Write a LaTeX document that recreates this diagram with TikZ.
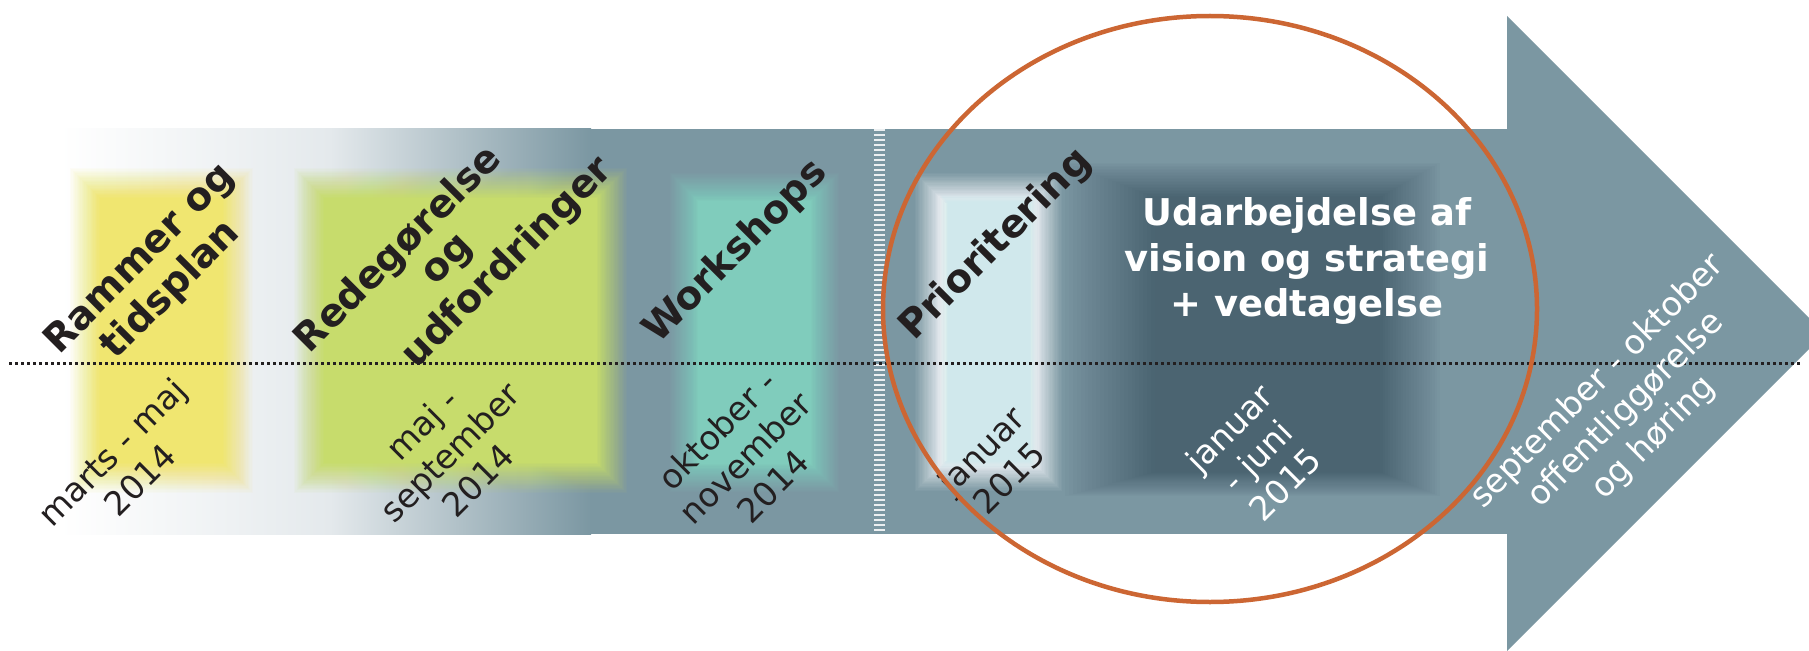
\documentclass[tikz,border=0pt]{standalone}
\usepackage{fontspec}
\setmainfont{DejaVu Sans}
\definecolor{steel}{RGB}{123,151,162}
\definecolor{lightg}{RGB}{228,233,236}
\definecolor{slate}{RGB}{75,100,113}
\definecolor{ylw}{RGB}{240,230,112}
\definecolor{ygreen}{RGB}{199,220,108}
\definecolor{aqua}{RGB}{128,204,188}
\definecolor{pale}{RGB}{208,232,236}
\definecolor{orng}{RGB}{204,102,51}
\definecolor{ink}{RGB}{35,31,32}
% soft-edged rectangle with a linear alpha ramp:
% colour, x1, y1, x2, y2 (half-intensity edges), blur width
\newcommand\softrect[6]{%
  \foreach \k in {1,...,24}{%
    \pgfmathsetmacro\op{1/(25-\k)}%
    \pgfmathsetmacro\off{#6/2-(\k-1)*#6/23}%
    \fill[#1,opacity=\op] ({#2-\off},{#3-\off}) rectangle ({#4+\off},{#5+\off});
  }%
}
% asymmetric version: colour, x1, y1, x2, y2, blur left, top, right, bottom
\newcommand\softrectx[9]{%
  \foreach \k in {1,...,24}{%
    \pgfmathsetmacro\op{1/(25-\k)}%
    \pgfmathsetmacro\f{0.5-(\k-1)/23}%
    \fill[#1,opacity=\op] ({#2-\f*#6},{#3-\f*#7}) rectangle ({#4+\f*#8},{#5+\f*#9});
  }%
}
\begin{document}
\begin{tikzpicture}[x=1bp,y=-1bp,
  phase/.style={rotate=45, align=center, text=ink, inner sep=0pt, font=\fontsize{39}{44}\selectfont\bfseries},
  period/.style={rotate=45, align=center, text=ink, inner sep=0pt, font=\fontsize{33.5}{40}\selectfont},
  wperiod/.style={period, text=white},
  wtitle/.style={align=center, text=white, inner sep=0pt, font=\fontsize{37}{45.5}\selectfont\bfseries},
  dotline/.style={ink, line width=3bp, dash pattern=on 2.6bp off 3.4bp},
  ladder/.style={white, opacity=0.85, line width=11bp, dash pattern=on 1.6bp off 3.4bp},
  ring/.style={orng, line width=4.5bp}]
\useasboundingbox (0,0) rectangle (1809,651);
\clip (0,0) rectangle (1809,651);
% arrow body
\fill[white] (0,0) rectangle (1809,651);
\shade[left color=white, right color=lightg] (60,129) rectangle (331,534);
\shade[left color=lightg, right color=steel] (330,129) rectangle (591,534);
\fill[steel] (590,129) rectangle (1508,534);
\fill[steel] (1507,16) -- (1824.5,333.5) -- (1507,651) -- cycle;
% phase boxes
\softrect{ylw}{85}{183}{238}{478}{30}
\softrect{ygreen}{309}{183}{612}{478}{30}
\softrect{aqua}{684}{187}{825}{478}{28}
\softrect{white}{930}{188}{1047}{476}{30}
\softrect{pale}{944}{198}{1034}{465}{8}
\softrectx{slate}{1110}{180}{1410}{484}{90}{34}{60}{24}
% separators
\coordinate (sepT) at (879,129);
\coordinate (sepB) at (879,534);
\draw[ladder] (sepT) -- (sepB);
\coordinate (axL) at (9,363);
\coordinate (axR) at (1800,363);
\draw[dotline] (axL) -- (axR);
% labels
\node[phase] (p1) at (156,275) {Rammer og\\tidsplan};
\node[phase] (p2a) at (399,250) {Redegørelse};
\node[phase] (p2b) at (450,262) {og};
\node[phase] (p2c) at (508,263) {udfordringer};
\node[phase] (p3) at (736,252) {Workshops};
\node[phase] (p4) at (996,245) {Prioritering};
\node[wtitle] (p5) at (1307,261) {Udarbejdelse af\\vision og strategi\\+ vedtagelse};
\node[period] (d1) at (126,466) {marts - maj\\2014};
\node[period] (d2) at (450,452) {maj -\\september\\2014};
\node[period] (d3) at (745,458) {oktober -\\november\\2014};
\node[period] (d4) at (995,464) {januar\\2015};
\node[wperiod] (d5) at (1257,456) {januar\\- juni\\2015};
\node[wperiod] (d6) at (1626,410) {september - oktober\\offentliggørelse\\og høring};
% highlight ring
\draw[ring] (1210,309) ellipse [x radius=327, y radius=293];
\end{tikzpicture}
\end{document}
